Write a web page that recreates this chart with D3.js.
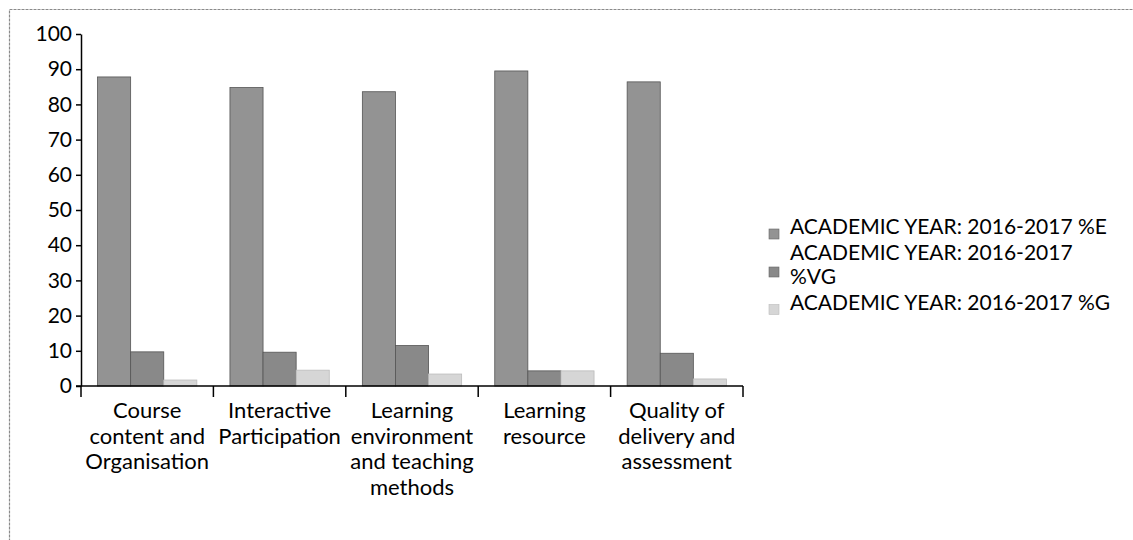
<!DOCTYPE html>
<html>
<head>
<meta charset="utf-8">
<script src="https://cdn.jsdelivr.net/npm/d3@7"></script>
<style>
	body { margin: 0; background: #fff; }
	text { font-family: Lato, "Open Sans", sans-serif; fill: #000; }
</style>
</head>
<body>
<svg class="bar_chart" width="1133" height="540"></svg>
<script>
// categories and their wrapped tick labels
var categories = ["Course content and Organisation", "Interactive Participation",
	"Learning environment and teaching methods", "Learning resource", "Quality of delivery and assessment"];
var categoryLines = [
	["Course", "content and", "Organisation"],
	["Interactive", "Participation"],
	["Learning", "environment", "and teaching", "methods"],
	["Learning", "resource"],
	["Quality of", "delivery and", "assessment"]
];

// series
var seriesNames = ["ACADEMIC YEAR: 2016-2017 %E", "ACADEMIC YEAR: 2016-2017 %VG", "ACADEMIC YEAR: 2016-2017 %G"];
var legendLines = [
	["ACADEMIC YEAR: 2016-2017 %E"],
	["ACADEMIC YEAR: 2016-2017", "%VG"],
	["ACADEMIC YEAR: 2016-2017 %G"]
];
var valuesE = [87.8, 84.8, 83.6, 89.5, 86.4];
var valuesVG = [9.7, 9.6, 11.5, 4.3, 9.3];
var valuesG = [1.7, 4.5, 3.4, 4.3, 2.0];
var yTicks = [0, 10, 20, 30, 40, 50, 60, 70, 80, 90, 100];

var seriesColors = ["#939393", "#898989", "#d6d6d6"];

var svg = d3.select(".bar_chart");

// outer frame (only top and left edges visible in the picture)
svg.append("rect")
	.attr("x", 9.5).attr("y", 9.5)
	.attr("width", 1200).attr("height", 600)
	.attr("fill", "none")
	.attr("stroke", "#8a8a8a")
	.attr("stroke-width", 1.2)
	.attr("stroke-dasharray", "3,1");

var margin = { top: 34, left: 81 };
var width = 662;
var height = 352;
var g = svg.append("g").attr("transform", "translate(" + margin.left + "," + margin.top + ")");

var x0 = d3.scaleBand().domain(categories).range([0, width]).padding(0);
var x1 = d3.scaleBand().domain(seriesNames)
	.range([x0.bandwidth() * 0.125, x0.bandwidth() * 0.875]).padding(0);
var y = d3.scaleLinear().domain([0, 100]).range([height, 0]);

var data = categories.map((c, i) => {
	return { cat: c, values: [valuesE[i], valuesVG[i], valuesG[i]] };
});

// bars
var group = g.selectAll(".cat")
	.data(data)
	.enter().append("g")
		.attr("class", "cat")
		.attr("transform", (d) => { return "translate(" + x0(d.cat) + ",0)"; });

group.selectAll("rect")
	.data((d) => { return d.values.map((v, k) => { return { key: seriesNames[k], value: v, k: k }; }); })
	.enter().append("rect")
		.attr("x", (d) => { return x1(d.key); })
		.attr("y", (d) => { return y(d.value); })
		.attr("width", x1.bandwidth())
		.attr("height", (d) => { return height - y(d.value); })
		.attr("fill", (d) => { return seriesColors[d.k]; })
		.attr("stroke", (d) => { return d.k == 2 ? "#bbb" : "#555"; })
		.attr("stroke-width", 0.8);

// y axis
var yAxis = g.append("g")
	.call(d3.axisLeft(y).tickValues(yTicks).tickSize(5).tickSizeOuter(0).tickPadding(4));
yAxis.select(".domain").attr("stroke", "#000").attr("stroke-width", 1.5);
yAxis.selectAll(".tick line").attr("stroke", "#000").attr("stroke-width", 1.5);
yAxis.selectAll(".tick text").style("font-size", "21px").style("font-family", "Lato");

// x axis line
var xAxis = g.append("g")
	.attr("transform", "translate(0," + height + ")")
	.call(d3.axisBottom(x0).tickSize(0).tickSizeOuter(0).tickFormat(""));
xAxis.select(".domain").attr("stroke", "#000").attr("stroke-width", 1.5)
	.attr("d", "M-5,0H" + width);

// category boundary ticks
var bounds = categories.map((c) => { return x0(c); }).concat([x0(categories[categories.length - 1]) + x0.bandwidth()]);
xAxis.selectAll(".bound")
	.data(bounds)
	.enter().append("line")
		.attr("class", "bound")
		.attr("x1", (d) => { return d; }).attr("x2", (d) => { return d; })
		.attr("y1", 0).attr("y2", 11)
		.attr("stroke", "#000").attr("stroke-width", 1.5);

// category labels
var labels = g.selectAll(".catlabel")
	.data(data)
	.enter().append("text")
		.attr("class", "catlabel")
		.attr("text-anchor", "middle")
		.attr("transform", (d) => { return "translate(" + (x0(d.cat) + x0.bandwidth() / 2) + "," + (height + 32) + ")"; })
		.style("font-size", "22px");

labels.selectAll("tspan")
	.data((d, i) => { return categoryLines[i]; })
	.enter().append("tspan")
		.attr("x", 0)
		.attr("dy", (d, i) => { return i == 0 ? 0 : 25.6; })
		.text((d) => { return d; });

// legend
var legendY = [234, 272, 309.5];
var legend = svg.selectAll(".legend")
	.data(seriesNames)
	.enter().append("g")
		.attr("class", "legend")
		.attr("transform", (d, i) => { return "translate(769," + legendY[i] + ")"; });

legend.append("rect")
	.attr("x", 0).attr("y", -5)
	.attr("width", 10).attr("height", 10)
	.attr("fill", (d, i) => { return seriesColors[i]; })
	.attr("stroke", (d, i) => { return i == 2 ? "#bbb" : "#666"; })
	.attr("stroke-width", 0.6);

legend.append("text")
	.attr("x", 21)
	.attr("y", (d, i) => { return -(legendLines[i].length - 1) * 24 / 2; })
	.attr("dy", "0.35em")
	.style("font-size", "21px")
	.selectAll("tspan")
	.data((d, i) => { return legendLines[i]; })
	.enter().append("tspan")
		.attr("x", 21)
		.attr("dy", (d, i) => { return i == 0 ? 0 : 24; })
		.text((d) => { return d; });
</script>
</body>
</html>
